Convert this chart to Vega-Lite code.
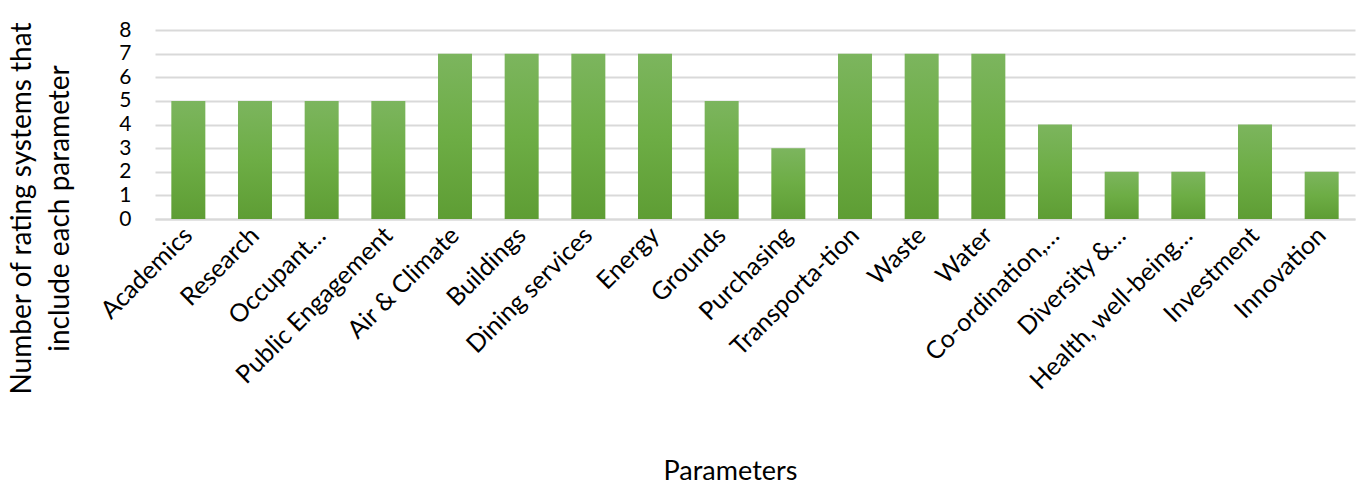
{
  "$schema": "https://vega.github.io/schema/vega-lite/v6.json",
  "autosize": "none",
  "width": 1200,
  "height": 189,
  "padding": {"left": 155, "top": 30, "right": 5, "bottom": 267},
  "background": "white",
  "config": {"view": {"stroke": null}, "font": "Lato"},
  "data": {"values": [
    {"parameter": "Academics", "count": 5},
    {"parameter": "Research", "count": 5},
    {"parameter": "Occupant…", "count": 5},
    {"parameter": "Public Engagement", "count": 5},
    {"parameter": "Air & Climate", "count": 7},
    {"parameter": "Buildings", "count": 7},
    {"parameter": "Dining services", "count": 7},
    {"parameter": "Energy", "count": 7},
    {"parameter": "Grounds", "count": 5},
    {"parameter": "Purchasing", "count": 3},
    {"parameter": "Transporta-tion", "count": 7},
    {"parameter": "Waste", "count": 7},
    {"parameter": "Water", "count": 7},
    {"parameter": "Co-ordination,…", "count": 4},
    {"parameter": "Diversity &…", "count": 2},
    {"parameter": "Health, well-being…", "count": 2},
    {"parameter": "Investment", "count": 4},
    {"parameter": "Innovation", "count": 2}
  ]},
  "mark": {
    "type": "bar",
    "color": {
      "gradient": "linear", "x1": 0, "y1": 0, "x2": 0, "y2": 1,
      "stops": [
        {"offset": 0, "color": "#7cb55e"},
        {"offset": 0.5, "color": "#6dad45"},
        {"offset": 1, "color": "#5e9d34"}
      ]
    }
  },
  "encoding": {
    "x": {
      "field": "parameter", "type": "nominal", "sort": null,
      "scale": {"paddingInner": 0.49, "paddingOuter": 0.245},
      "axis": {
        "title": "Parameters",
        "titleFont": "Lato", "titleFontSize": 27, "titleFontWeight": "normal", "titleColor": "#000",
        "titleX": 575, "titleY": 260, "titleBaseline": "alphabetic",
        "labelAngle": -45, "labelAlign": "right", "labelBaseline": "middle",
        "labelFont": "Lato", "labelFontSize": 25, "labelColor": "#000",
        "labelPadding": 12, "labelOverlap": false, "labelLimit": 400,
        "ticks": false, "domainColor": "#d9d9d9", "domainWidth": 2, "grid": false
      }
    },
    "y": {
      "field": "count", "type": "quantitative",
      "scale": {"domain": [0, 8]},
      "axis": {
        "title": ["Number of rating systems that", "include each parameter"],
        "titleFont": "Lato", "titleFontSize": 28, "titleFontWeight": "normal", "titleColor": "#000",
        "titleX": -133, "titleY": 178, "titleAngle": -90, "titleAlign": "center", "titleBaseline": "middle",
        "titleLineHeight": 38,
        "values": [0, 1, 2, 3, 4, 5, 6, 7, 8],
        "labelFont": "Lato", "labelFontSize": 21, "labelColor": "#000", "labelPadding": 24,
        "ticks": false, "domain": false,
        "grid": true, "gridColor": "#d9d9d9", "gridWidth": 2
      }
    }
  }
}
